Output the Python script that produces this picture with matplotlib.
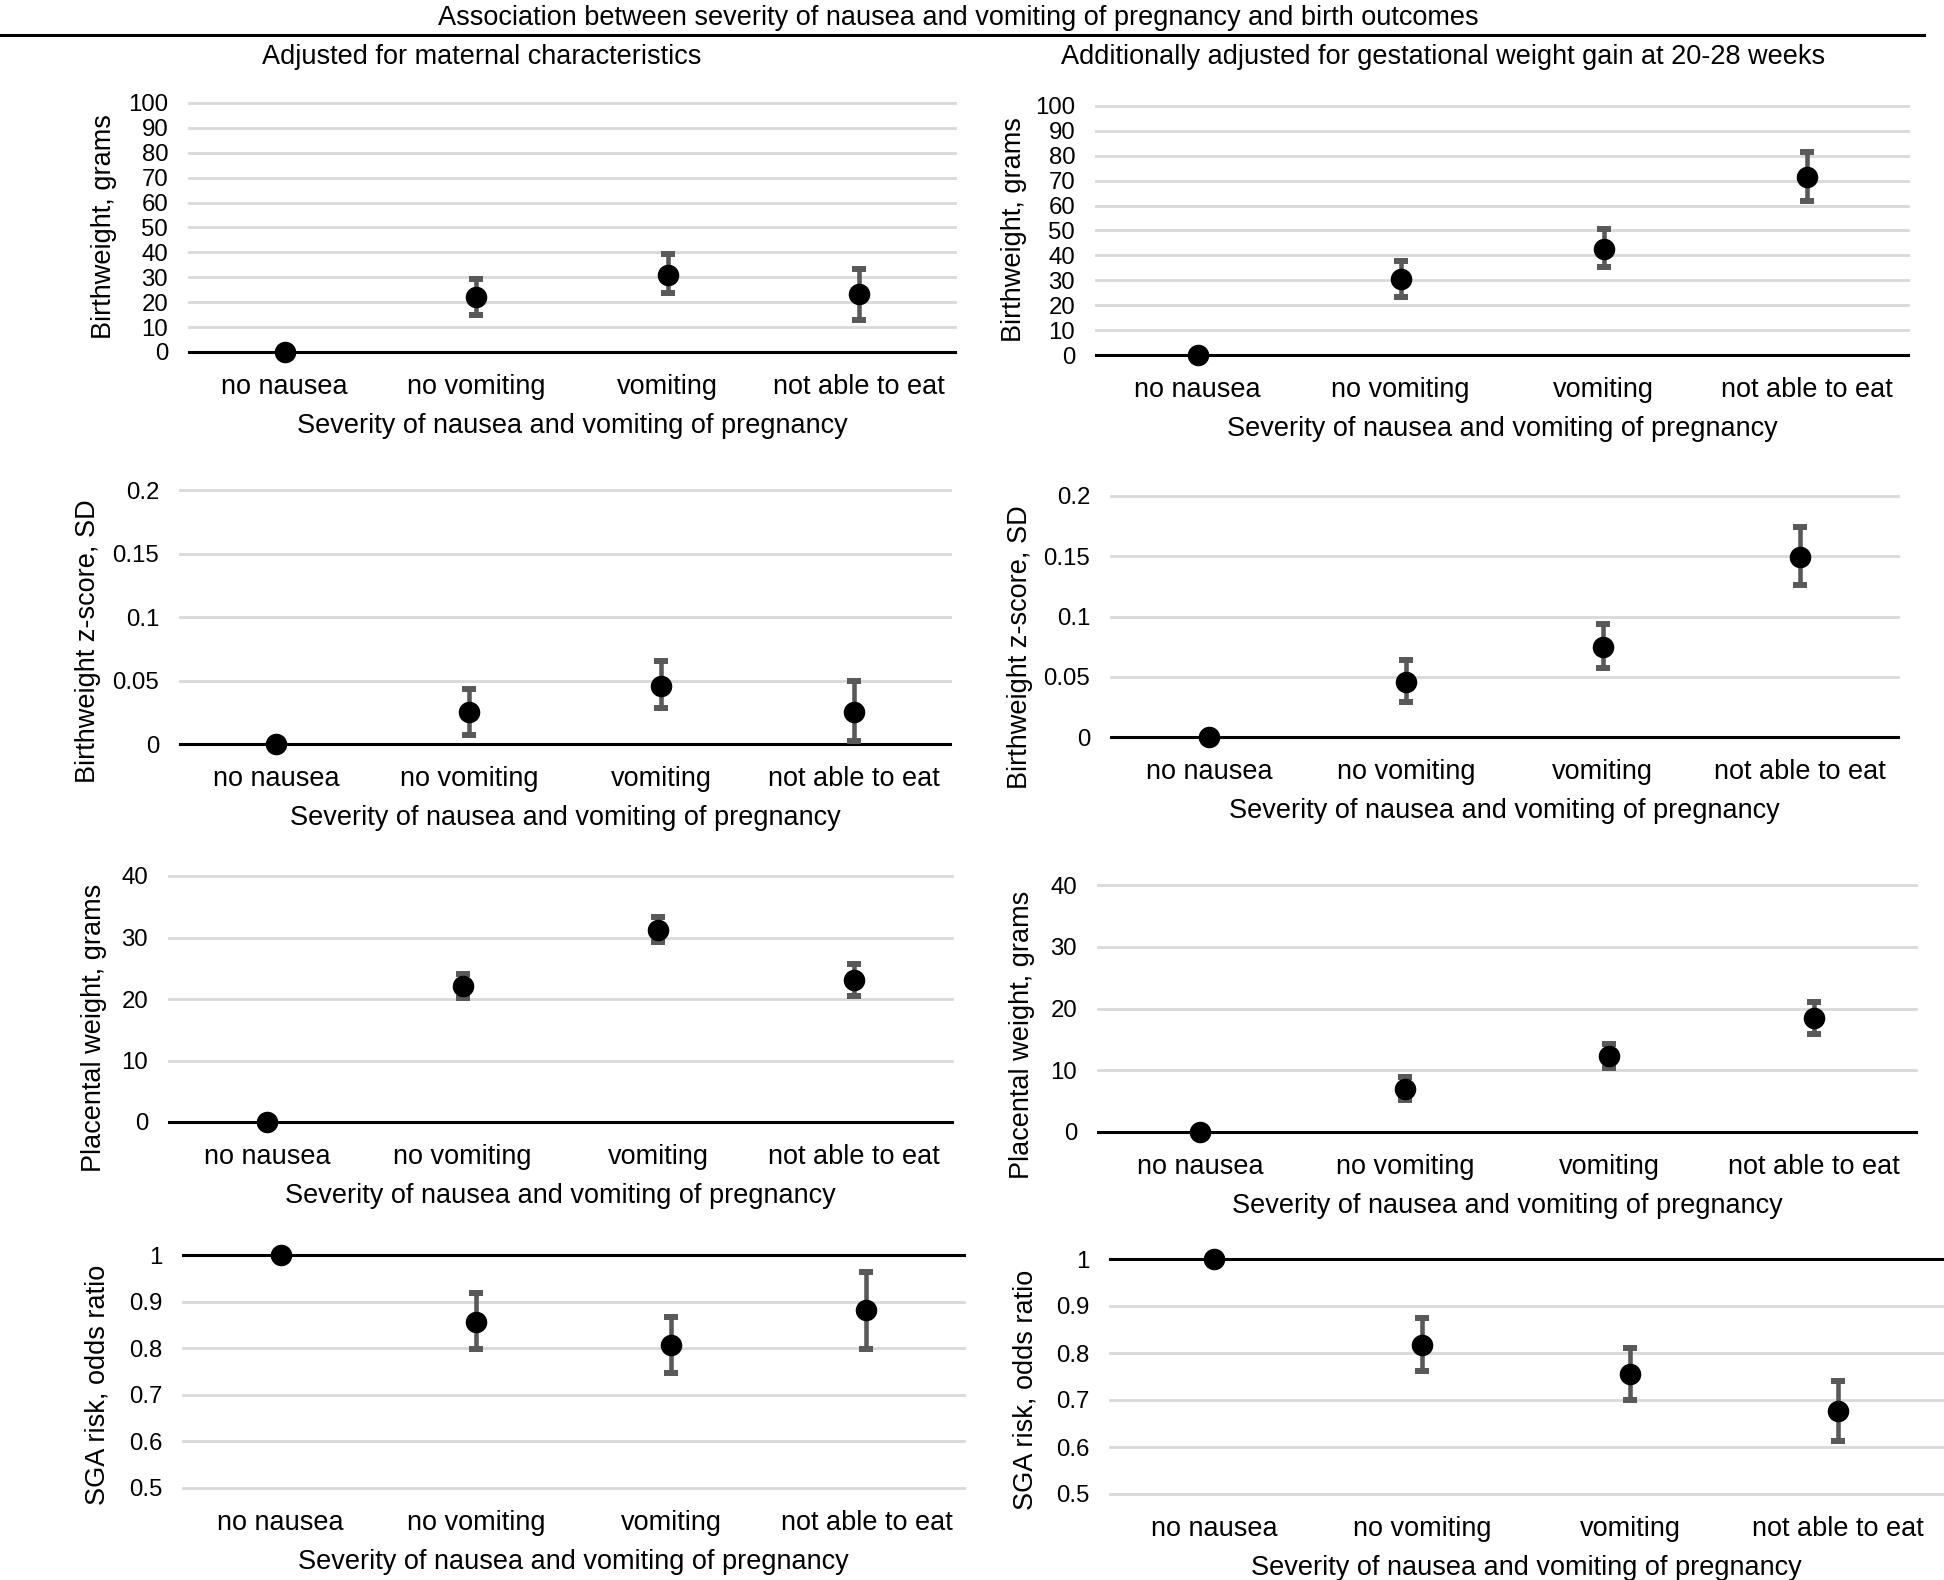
import matplotlib
matplotlib.use("Agg")
import matplotlib.pyplot as plt
import numpy as np

plt.rcParams['font.family'] = ['Liberation Sans', 'DejaVu Sans']
plt.rcParams['font.size'] = 19.5

categories = ["no nausea", "no vomiting", "vomiting", "not able to eat"]
xlab = "Severity of nausea and vomiting of pregnancy"

# birthweight, grams
bw_adj = [0, 22.0, 31.0, 23.1]
bw_adj_lo = [0, 15.0, 23.5, 13.0]
bw_adj_hi = [0, 29.5, 39.3, 33.2]
bw_gwg = [0, 30.4, 42.7, 71.6]
bw_gwg_lo = [0, 23.4, 35.2, 61.8]
bw_gwg_hi = [0, 37.9, 50.5, 81.7]

# birthweight z-score, SD
z_adj = [0, 0.025, 0.046, 0.025]
z_adj_lo = [0, 0.007, 0.028, 0.002]
z_adj_hi = [0, 0.043, 0.065, 0.050]
z_gwg = [0, 0.046, 0.075, 0.149]
z_gwg_lo = [0, 0.029, 0.057, 0.126]
z_gwg_hi = [0, 0.064, 0.094, 0.174]

# placental weight, grams
pw_adj = [0, 22.1, 31.3, 23.1]
pw_adj_lo = [0, 20.2, 29.3, 20.5]
pw_adj_hi = [0, 24.0, 33.3, 25.7]
pw_gwg = [0, 7.0, 12.3, 18.4]
pw_gwg_lo = [0, 5.2, 10.3, 15.8]
pw_gwg_hi = [0, 8.9, 14.3, 21.0]

# SGA risk, odds ratio
sga_adj = [1, 0.857, 0.807, 0.881]
sga_adj_lo = [1, 0.799, 0.747, 0.799]
sga_adj_hi = [1, 0.918, 0.866, 0.964]
sga_gwg = [1, 0.818, 0.755, 0.677]
sga_gwg_lo = [1, 0.762, 0.699, 0.613]
sga_gwg_hi = [1, 0.875, 0.811, 0.741]

W, H = 1944, 1580
fig = plt.figure(figsize=(W / 100, H / 100), dpi=100)


def px_axes(x0, y0, x1, y1):
    # pixel box (top-left origin) -> figure axes
    return fig.add_axes([x0 / W, 1 - y1 / H, (x1 - x0) / W, (y1 - y0) / H])


def panel(box, vals, lo, hi, ylim, yticks, yticklabels, ylabel, ylab_px, base):
    ax = px_axes(*box)
    x = np.arange(len(categories))
    v = np.array(vals)
    err = np.array([v - np.array(lo), np.array(hi) - v])
    ax.errorbar(x[1:], v[1:], yerr=err[:, 1:], fmt='none', ecolor='#595959',
                elinewidth=3.3, capsize=4.7, capthick=4.3, zorder=3)
    ax.plot(x, v, 'o', color='black', markersize=14.5, zorder=4, clip_on=False)
    ax.set_xlim(-0.5, 3.5)
    ax.set_ylim(*ylim)
    ax.set_yticks(yticks)
    ax.set_yticklabels(yticklabels, fontsize=17.3)
    ax.set_xticks(x)
    ax.set_xticklabels(categories)
    ax.tick_params(axis='both', length=0)
    ax.tick_params(axis='x', pad=15.5)
    ax.tick_params(axis='y', pad=15)
    for s in ax.spines.values():
        s.set_visible(False)
    for t in yticks:
        if t != base:
            ax.axhline(t, color='#d9d9d9', lw=2, zorder=1, clip_on=False)
    ax.axhline(base, color='black', lw=2.2, zorder=2, clip_on=False)
    ax.set_ylabel(ylabel, va='center', ha='center')
    ax.yaxis.set_label_coords(ylab_px[0] / W, 1 - ylab_px[1] / H, transform=fig.transFigure)
    x0, y0, x1, y1 = box
    ax.set_xlabel(xlab, va='center', ha='center')
    ax.xaxis.set_label_coords((x0 + x1) / 2 / W, 1 - (y1 + 74) / H, transform=fig.transFigure)
    return ax


bw_ticks = list(range(0, 101, 10))
z_ticks = [0, 0.05, 0.1, 0.15, 0.2]
z_labels = ["0", "0.05", "0.1", "0.15", "0.2"]
pw_ticks = [0, 10, 20, 30, 40]
sga_ticks = [0.5, 0.6, 0.7, 0.8, 0.9, 1.0]
sga_labels = ["0.5", "0.6", "0.7", "0.8", "0.9", "1"]

panel((189, 103, 955, 352), bw_adj, bw_adj_lo, bw_adj_hi, (0, 100), bw_ticks,
      [str(t) for t in bw_ticks], "Birthweight, grams", (104, 227), 0)
panel((1096, 106, 1908, 355), bw_gwg, bw_gwg_lo, bw_gwg_hi, (0, 100), bw_ticks,
      [str(t) for t in bw_ticks], "Birthweight, grams", (1014, 230), 0)

panel((180, 490, 950, 744), z_adj, z_adj_lo, z_adj_hi, (0, 0.2), z_ticks, z_labels,
      "Birthweight z-score, SD", (88, 641), 0)
panel((1111, 496, 1898, 737), z_gwg, z_gwg_lo, z_gwg_hi, (0, 0.2), z_ticks, z_labels,
      "Birthweight z-score, SD", (1020, 647), 0)

panel((169, 876, 952, 1122), pw_adj, pw_adj_lo, pw_adj_hi, (0, 40), pw_ticks,
      [str(t) for t in pw_ticks], "Placental weight, grams", (94, 1028), 0)
panel((1098, 885, 1916, 1132), pw_gwg, pw_gwg_lo, pw_gwg_hi, (0, 40), pw_ticks,
      [str(t) for t in pw_ticks], "Placental weight, grams", (1022, 1035), 0)

panel((183, 1255, 964, 1488), sga_adj, sga_adj_lo, sga_adj_hi, (0.5, 1.0), sga_ticks,
      sga_labels, "SGA risk, odds ratio", (98, 1385), 1.0)
panel((1110, 1259, 1942, 1494), sga_gwg, sga_gwg_lo, sga_gwg_hi, (0.5, 1.0), sga_ticks,
      sga_labels, "SGA risk, odds ratio", (1025, 1390), 1.0)

# headings
fig.text(958 / W, 1 - 18 / H, "Association between severity of nausea and vomiting of pregnancy and birth outcomes",
         ha='center', va='center')
fig.add_artist(plt.Line2D([0, 1924 / W], [1 - 35 / H, 1 - 35 / H], color='black', lw=2.2))
fig.text(482 / W, 1 - 57 / H, "Adjusted for maternal characteristics", ha='center', va='center')
fig.text(1443 / W, 1 - 57 / H, "Additionally adjusted for gestational weight gain at 20-28 weeks",
         ha='center', va='center')

fig.savefig("out.png", dpi=100)
